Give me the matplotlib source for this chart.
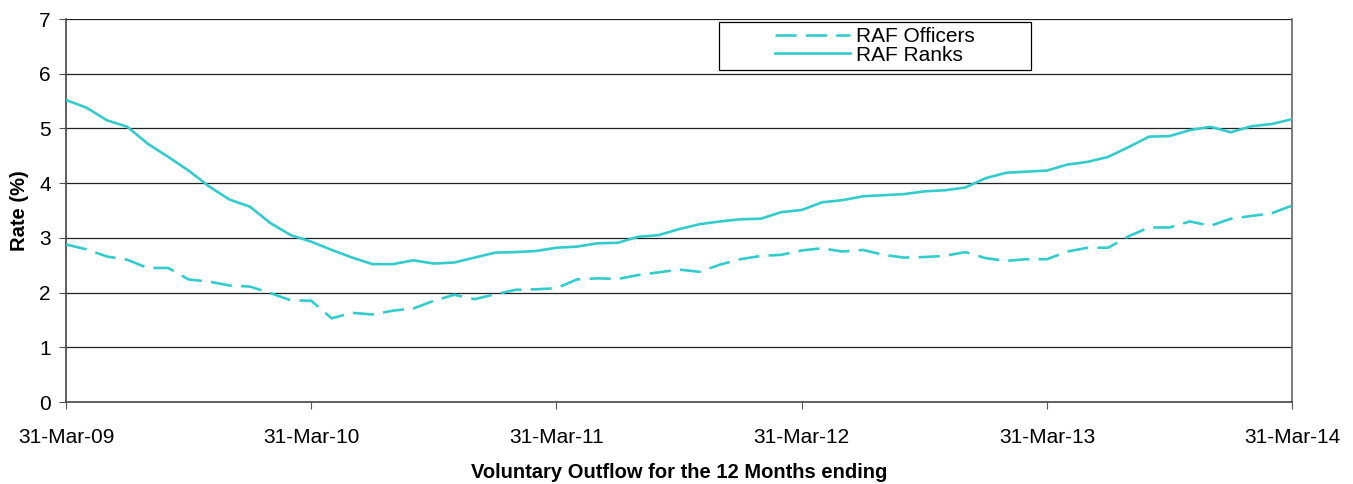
import matplotlib
matplotlib.use("Agg")
import matplotlib.pyplot as plt
from matplotlib.patches import Rectangle
import numpy as np

plt.rcParams['font.family'] = ['Liberation Sans', 'DejaVu Sans']

tick_labels = ["31-Mar-09", "31-Mar-10", "31-Mar-11", "31-Mar-12", "31-Mar-13", "31-Mar-14"]

officers = [2.88, 2.79, 2.66, 2.60, 2.45, 2.45, 2.24, 2.20, 2.13, 2.11, 1.99, 1.86, 1.85,
            1.53, 1.63, 1.60, 1.67, 1.71, 1.85, 1.96, 1.88, 1.97, 2.05, 2.06, 2.08,
            2.24, 2.26, 2.25, 2.32, 2.37, 2.42, 2.38, 2.51, 2.61, 2.67, 2.69, 2.77,
            2.81, 2.75, 2.78, 2.69, 2.64, 2.65, 2.67, 2.74, 2.63, 2.58, 2.61, 2.61,
            2.75, 2.82, 2.82, 3.03, 3.19, 3.19, 3.30, 3.22, 3.35, 3.40, 3.45, 3.59]

ranks = [5.52, 5.38, 5.15, 5.03, 4.72, 4.48, 4.23, 3.94, 3.70, 3.57, 3.27, 3.05, 2.93,
         2.78, 2.64, 2.52, 2.52, 2.59, 2.53, 2.55, 2.64, 2.73, 2.74, 2.76, 2.82,
         2.84, 2.90, 2.91, 3.02, 3.05, 3.16, 3.25, 3.30, 3.34, 3.35, 3.47, 3.51,
         3.65, 3.69, 3.76, 3.78, 3.80, 3.85, 3.87, 3.92, 4.09, 4.19, 4.21, 4.23,
         4.34, 4.39, 4.48, 4.66, 4.85, 4.86, 4.97, 5.03, 4.93, 5.04, 5.08, 5.17]

months = np.arange(len(ranks))
color = "#33CCCC"

fig = plt.figure(figsize=(13.53, 4.84), dpi=100)
ax = fig.add_axes([0.0488, 0.1694, 0.9062, 0.7913])

for y in range(1, 8):
    ax.axhline(y, color="#222222", lw=0.9, zorder=1)

l1, = ax.plot(months, officers, color=color, lw=1.9, dashes=(8, 3.5), label="RAF Officers", zorder=3)
l2, = ax.plot(months, ranks, color=color, lw=1.9, label="RAF Ranks", zorder=3)

ax.set_xlim(0, 60)
ax.set_ylim(0, 7)
ax.set_yticks(range(0, 8))
ax.set_xticks(np.arange(0, 61, 12))
ax.set_xticklabels(tick_labels)
ax.tick_params(axis='both', labelsize=15, direction='out', length=5, color="#555555")
ax.tick_params(axis='x', pad=14)
ax.tick_params(axis='y', pad=6)

for s in ["left", "bottom"]:
    ax.spines[s].set_color("#444444")
    ax.spines[s].set_linewidth(1.2)
ax.spines["right"].set_color("#666666")
ax.spines["right"].set_linewidth(1.2)
ax.spines["top"].set_visible(False)

ax.set_ylabel("Rate (%)", fontsize=14.5, fontweight="bold", labelpad=7)
ax.set_xlabel("Voluntary Outflow for the 12 Months ending", fontsize=14.5, fontweight="bold", labelpad=11)

# legend frame (wider than its content, as in the original)
frame = Rectangle((0.5326, 0.867), 0.2545, 0.125, transform=ax.transAxes,
                  facecolor="white", edgecolor="black", lw=0.9, zorder=5)
ax.add_patch(frame)
leg = ax.legend(handles=[l1, l2], loc="center", bbox_to_anchor=(0.6598, 0.9295),
                fontsize=15, frameon=False, handlelength=3.6,
                borderpad=0, labelspacing=-0.04, handletextpad=0.3, borderaxespad=0)
leg.set_zorder(6)

fig.savefig("out.png", dpi=100)
